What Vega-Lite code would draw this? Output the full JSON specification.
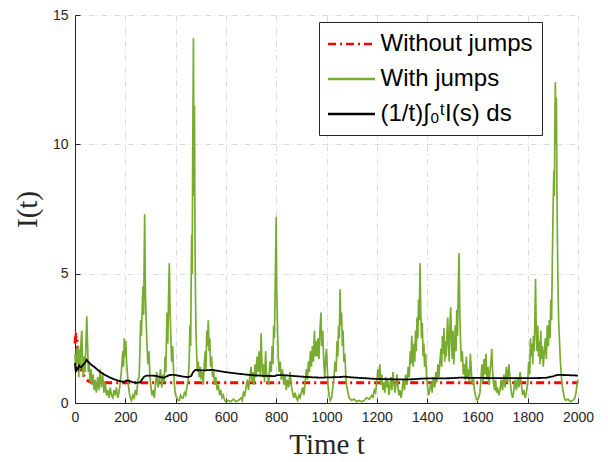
{
"$schema": "https://vega.github.io/schema/vega-lite/v6.json",
"width": 503, "height": 388,
"autosize": {"type": "none"},
"padding": {"left": 75, "top": 15, "right": 30, "bottom": 59},
"background": "white",
"config": {
  "view": {"stroke": null},
  "axis": {"domainColor": "#262626", "tickColor": "#262626", "labelColor": "#262626", "labelFont": "Liberation Sans", "labelFontSize": 14, "titleFont": "Liberation Serif", "titleFontSize": 29, "titleFontWeight": "normal", "titleColor": "#262626", "gridColor": "#dcdcdc", "gridDash": [6, 3, 1, 3], "gridWidth": 1, "tickSize": -5, "domainWidth": 1, "labelPadding": 12, "labelOverlap": false, "labelFlush": false, "format": "d"},
  "legend": {"title": null, "orient": "none", "legendX": 244, "legendY": 7, "fillColor": "white", "strokeColor": "#262626", "padding": 9, "symbolType": "M-2,0H2", "symbolSize": 552, "symbolStrokeWidth": 2.5, "symbolOffset": 10.5, "labelFont": "Liberation Sans", "labelFontSize": 24, "labelColor": "#000000", "labelOffset": 16, "rowPadding": 10}
},
"data": {"values": [
{"s":"a","t":0,"I":2.3},{"s":"a","t":2,"I":2.5},{"s":"a","t":4,"I":2.6},{"s":"a","t":6,"I":2.55},{"s":"a","t":8,"I":2.4},{"s":"a","t":10,"I":2.2},{"s":"a","t":13,"I":1.95},{"s":"a","t":16,"I":1.7},{"s":"a","t":20,"I":1.5},{"s":"a","t":25,"I":1.3},{"s":"a","t":30,"I":1.15},{"s":"a","t":38,"I":1.0},{"s":"a","t":46,"I":0.9},{"s":"a","t":55,"I":0.84},{"s":"a","t":65,"I":0.8},{"s":"a","t":80,"I":0.78},{"s":"a","t":2000,"I":0.78},
{"s":"b","t":0,"I":1.9},{"s":"b","t":3,"I":1.2},{"s":"b","t":6,"I":2.1},{"s":"b","t":9,"I":1.5},{"s":"b","t":12,"I":2.2},{"s":"b","t":15,"I":1.0},{"s":"b","t":18,"I":2.0},{"s":"b","t":21,"I":1.3},{"s":"b","t":24,"I":2.4},{"s":"b","t":27,"I":2.8},{"s":"b","t":30,"I":1.6},{"s":"b","t":33,"I":1.0},{"s":"b","t":36,"I":1.8},{"s":"b","t":40,"I":1.2},{"s":"b","t":44,"I":2.5},{"s":"b","t":47,"I":3.35},{"s":"b","t":50,"I":2.2},{"s":"b","t":53,"I":1.2},{"s":"b","t":56,"I":1.6},{"s":"b","t":60,"I":0.8},{"s":"b","t":64,"I":1.3},{"s":"b","t":68,"I":0.7},{"s":"b","t":72,"I":1.1},{"s":"b","t":76,"I":0.5},{"s":"b","t":80,"I":0.9},{"s":"b","t":85,"I":0.4},{"s":"b","t":90,"I":1.0},{"s":"b","t":95,"I":0.5},{"s":"b","t":100,"I":1.3},{"s":"b","t":105,"I":0.6},{"s":"b","t":110,"I":1.1},{"s":"b","t":115,"I":0.4},{"s":"b","t":120,"I":0.8},{"s":"b","t":125,"I":0.3},{"s":"b","t":130,"I":0.5},{"s":"b","t":135,"I":0.2},{"s":"b","t":140,"I":0.6},{"s":"b","t":145,"I":0.3},{"s":"b","t":150,"I":0.2},{"s":"b","t":155,"I":0.5},{"s":"b","t":160,"I":0.3},{"s":"b","t":165,"I":0.6},{"s":"b","t":170,"I":0.2},{"s":"b","t":175,"I":0.4},{"s":"b","t":180,"I":0.8},{"s":"b","t":185,"I":1.3},{"s":"b","t":190,"I":2.0},{"s":"b","t":193,"I":1.4},{"s":"b","t":196,"I":2.5},{"s":"b","t":199,"I":1.8},{"s":"b","t":202,"I":2.4},{"s":"b","t":205,"I":1.6},{"s":"b","t":208,"I":1.2},{"s":"b","t":212,"I":0.7},{"s":"b","t":216,"I":0.4},{"s":"b","t":220,"I":0.2},{"s":"b","t":225,"I":0.1},{"s":"b","t":230,"I":0.3},{"s":"b","t":235,"I":0.2},{"s":"b","t":240,"I":0.5},{"s":"b","t":245,"I":0.3},{"s":"b","t":250,"I":0.9},{"s":"b","t":255,"I":1.0},{"s":"b","t":258,"I":2.0},{"s":"b","t":261,"I":3.2},{"s":"b","t":264,"I":2.6},{"s":"b","t":267,"I":3.6},{"s":"b","t":270,"I":4.5},{"s":"b","t":273,"I":3.4},{"s":"b","t":275,"I":5.5},{"s":"b","t":277,"I":7.3},{"s":"b","t":280,"I":4.2},{"s":"b","t":283,"I":3.2},{"s":"b","t":286,"I":2.3},{"s":"b","t":290,"I":1.5},{"s":"b","t":294,"I":2.0},{"s":"b","t":298,"I":1.0},{"s":"b","t":302,"I":0.6},{"s":"b","t":306,"I":0.3},{"s":"b","t":310,"I":0.5},{"s":"b","t":315,"I":0.2},{"s":"b","t":320,"I":0.7},{"s":"b","t":325,"I":1.2},{"s":"b","t":330,"I":0.6},{"s":"b","t":335,"I":0.9},{"s":"b","t":340,"I":1.3},{"s":"b","t":345,"I":0.6},{"s":"b","t":350,"I":1.1},{"s":"b","t":355,"I":0.8},{"s":"b","t":358,"I":1.8},{"s":"b","t":361,"I":1.2},{"s":"b","t":364,"I":2.6},{"s":"b","t":366,"I":3.5},{"s":"b","t":369,"I":2.3},{"s":"b","t":372,"I":4.1},{"s":"b","t":375,"I":5.4},{"s":"b","t":378,"I":3.5},{"s":"b","t":381,"I":2.6},{"s":"b","t":384,"I":1.6},{"s":"b","t":388,"I":2.2},{"s":"b","t":392,"I":1.2},{"s":"b","t":396,"I":0.6},{"s":"b","t":400,"I":0.3},{"s":"b","t":405,"I":0.2},{"s":"b","t":410,"I":0.1},{"s":"b","t":415,"I":0.1},{"s":"b","t":420,"I":0.3},{"s":"b","t":425,"I":0.2},
{"s":"b","t":430,"I":0.2},{"s":"b","t":435,"I":0.4},{"s":"b","t":440,"I":0.3},{"s":"b","t":445,"I":0.6},{"s":"b","t":450,"I":0.9},{"s":"b","t":454,"I":1.6},{"s":"b","t":457,"I":3.0},{"s":"b","t":460,"I":2.2},{"s":"b","t":462,"I":4.8},{"s":"b","t":464,"I":6.5},{"s":"b","t":466,"I":5.0},{"s":"b","t":468,"I":9.5},{"s":"b","t":471,"I":14.1},{"s":"b","t":473,"I":8.0},{"s":"b","t":475,"I":11.5},{"s":"b","t":477,"I":6.5},{"s":"b","t":479,"I":4.2},{"s":"b","t":481,"I":2.8},{"s":"b","t":484,"I":1.8},{"s":"b","t":487,"I":1.2},{"s":"b","t":490,"I":1.6},{"s":"b","t":494,"I":1.0},{"s":"b","t":498,"I":1.4},{"s":"b","t":502,"I":0.9},{"s":"b","t":506,"I":1.2},{"s":"b","t":510,"I":0.7},{"s":"b","t":514,"I":1.5},{"s":"b","t":518,"I":2.0},{"s":"b","t":521,"I":1.3},{"s":"b","t":524,"I":2.8},{"s":"b","t":527,"I":2.2},{"s":"b","t":530,"I":3.2},{"s":"b","t":533,"I":2.0},{"s":"b","t":536,"I":2.5},{"s":"b","t":539,"I":1.4},{"s":"b","t":543,"I":1.8},{"s":"b","t":547,"I":1.0},{"s":"b","t":551,"I":1.3},{"s":"b","t":555,"I":0.7},{"s":"b","t":560,"I":1.0},{"s":"b","t":565,"I":0.5},{"s":"b","t":570,"I":0.7},{"s":"b","t":575,"I":0.3},{"s":"b","t":580,"I":0.5},{"s":"b","t":585,"I":0.2},{"s":"b","t":590,"I":0.3},{"s":"b","t":595,"I":0.1},{"s":"b","t":600,"I":0.05},{"s":"b","t":610,"I":0.1},{"s":"b","t":620,"I":0.05},{"s":"b","t":630,"I":0.15},{"s":"b","t":640,"I":0.05},{"s":"b","t":650,"I":0.1},{"s":"b","t":660,"I":0.2},{"s":"b","t":665,"I":0.1},{"s":"b","t":670,"I":0.4},{"s":"b","t":675,"I":0.3},{"s":"b","t":680,"I":0.6},{"s":"b","t":685,"I":0.9},{"s":"b","t":690,"I":0.5},{"s":"b","t":695,"I":1.0},{"s":"b","t":700,"I":1.4},{"s":"b","t":704,"I":0.8},{"s":"b","t":708,"I":1.2},{"s":"b","t":712,"I":0.7},{"s":"b","t":716,"I":1.5},{"s":"b","t":720,"I":1.0},{"s":"b","t":724,"I":1.8},{"s":"b","t":728,"I":1.2},{"s":"b","t":732,"I":2.0},{"s":"b","t":736,"I":1.1},{"s":"b","t":740,"I":2.7},{"s":"b","t":743,"I":1.6},{"s":"b","t":746,"I":1.0},{"s":"b","t":750,"I":1.5},{"s":"b","t":754,"I":0.8},{"s":"b","t":758,"I":2.0},{"s":"b","t":762,"I":1.0},{"s":"b","t":766,"I":1.1},{"s":"b","t":770,"I":0.7},{"s":"b","t":775,"I":1.6},{"s":"b","t":780,"I":1.2},{"s":"b","t":784,"I":2.2},{"s":"b","t":787,"I":1.5},{"s":"b","t":790,"I":3.0},{"s":"b","t":793,"I":2.5},{"s":"b","t":796,"I":4.5},{"s":"b","t":798,"I":5.8},{"s":"b","t":800,"I":7.2},{"s":"b","t":802,"I":4.5},{"s":"b","t":805,"I":3.0},{"s":"b","t":808,"I":1.8},{"s":"b","t":812,"I":1.2},{"s":"b","t":816,"I":1.6},{"s":"b","t":820,"I":0.9},{"s":"b","t":825,"I":1.3},{"s":"b","t":830,"I":0.7},{"s":"b","t":835,"I":1.1},{"s":"b","t":840,"I":0.5},{"s":"b","t":845,"I":0.9},{"s":"b","t":850,"I":0.6},{"s":"b","t":855,"I":1.2},{"s":"b","t":860,"I":0.7},{"s":"b","t":865,"I":0.4},{"s":"b","t":870,"I":0.2},{"s":"b","t":875,"I":0.4},{"s":"b","t":880,"I":0.2},{"s":"b","t":885,"I":0.1},{"s":"b","t":890,"I":0.3},{"s":"b","t":895,"I":0.2},{"s":"b","t":900,"I":0.4},{"s":"b","t":905,"I":0.6},{"s":"b","t":910,"I":0.3},{"s":"b","t":915,"I":0.8},{"s":"b","t":920,"I":1.3},{"s":"b","t":924,"I":0.9},{"s":"b","t":928,"I":1.6},{"s":"b","t":932,"I":1.2},{"s":"b","t":936,"I":2.0},{"s":"b","t":940,"I":1.4},{"s":"b","t":944,"I":2.2},{"s":"b","t":948,"I":1.6},{"s":"b","t":952,"I":2.8},{"s":"b","t":955,"I":1.8},{"s":"b","t":958,"I":2.4},{"s":"b","t":962,"I":1.8},{"s":"b","t":966,"I":2.5},{"s":"b","t":970,"I":1.7},{"s":"b","t":974,"I":2.8},{"s":"b","t":978,"I":3.5},{"s":"b","t":981,"I":2.2},{"s":"b","t":985,"I":2.8},{"s":"b","t":989,"I":1.6},{"s":"b","t":993,"I":1.0},{"s":"b","t":997,"I":1.8},
{"s":"b","t":1000,"I":2.1},{"s":"b","t":1003,"I":1.4},{"s":"b","t":1006,"I":0.7},{"s":"b","t":1010,"I":0.3},{"s":"b","t":1015,"I":0.1},{"s":"b","t":1020,"I":0.2},{"s":"b","t":1025,"I":0.6},{"s":"b","t":1030,"I":1.0},{"s":"b","t":1034,"I":1.6},{"s":"b","t":1038,"I":1.2},{"s":"b","t":1042,"I":2.4},{"s":"b","t":1045,"I":1.8},{"s":"b","t":1048,"I":3.0},{"s":"b","t":1051,"I":2.5},{"s":"b","t":1054,"I":4.4},{"s":"b","t":1057,"I":3.0},{"s":"b","t":1060,"I":3.5},{"s":"b","t":1063,"I":2.2},{"s":"b","t":1066,"I":2.8},{"s":"b","t":1069,"I":1.6},{"s":"b","t":1073,"I":1.9},{"s":"b","t":1077,"I":1.0},{"s":"b","t":1081,"I":0.6},{"s":"b","t":1086,"I":0.4},{"s":"b","t":1090,"I":0.2},{"s":"b","t":1100,"I":0.1},{"s":"b","t":1110,"I":0.15},{"s":"b","t":1120,"I":0.05},{"s":"b","t":1130,"I":0.1},{"s":"b","t":1140,"I":0.05},{"s":"b","t":1150,"I":0.1},{"s":"b","t":1160,"I":0.2},{"s":"b","t":1170,"I":0.15},{"s":"b","t":1180,"I":0.3},{"s":"b","t":1185,"I":0.2},{"s":"b","t":1190,"I":0.5},{"s":"b","t":1195,"I":0.4},{"s":"b","t":1200,"I":0.8},{"s":"b","t":1204,"I":1.3},{"s":"b","t":1208,"I":0.9},{"s":"b","t":1212,"I":1.5},{"s":"b","t":1216,"I":0.7},{"s":"b","t":1220,"I":1.1},{"s":"b","t":1224,"I":0.5},{"s":"b","t":1228,"I":0.8},{"s":"b","t":1232,"I":0.4},{"s":"b","t":1236,"I":1.0},{"s":"b","t":1240,"I":0.6},{"s":"b","t":1244,"I":0.9},{"s":"b","t":1248,"I":0.3},{"s":"b","t":1252,"I":0.6},{"s":"b","t":1256,"I":1.0},{"s":"b","t":1260,"I":0.5},{"s":"b","t":1264,"I":1.2},{"s":"b","t":1268,"I":0.8},{"s":"b","t":1272,"I":0.4},{"s":"b","t":1276,"I":0.7},{"s":"b","t":1280,"I":1.1},{"s":"b","t":1284,"I":0.6},{"s":"b","t":1288,"I":0.3},{"s":"b","t":1292,"I":0.5},{"s":"b","t":1296,"I":0.2},{"s":"b","t":1300,"I":0.4},{"s":"b","t":1305,"I":0.9},{"s":"b","t":1310,"I":0.5},{"s":"b","t":1315,"I":1.1},{"s":"b","t":1320,"I":0.7},{"s":"b","t":1325,"I":1.4},{"s":"b","t":1329,"I":1.0},{"s":"b","t":1333,"I":2.0},{"s":"b","t":1336,"I":1.5},{"s":"b","t":1339,"I":2.6},{"s":"b","t":1342,"I":1.8},{"s":"b","t":1345,"I":1.4},{"s":"b","t":1348,"I":2.3},{"s":"b","t":1351,"I":1.6},{"s":"b","t":1354,"I":2.8},{"s":"b","t":1357,"I":2.0},{"s":"b","t":1360,"I":3.3},{"s":"b","t":1363,"I":2.5},{"s":"b","t":1366,"I":4.0},{"s":"b","t":1369,"I":3.2},{"s":"b","t":1372,"I":5.4},{"s":"b","t":1375,"I":3.4},{"s":"b","t":1378,"I":2.5},{"s":"b","t":1381,"I":3.1},{"s":"b","t":1384,"I":1.8},{"s":"b","t":1387,"I":2.3},{"s":"b","t":1390,"I":1.4},{"s":"b","t":1394,"I":1.9},{"s":"b","t":1398,"I":1.0},{"s":"b","t":1402,"I":0.6},{"s":"b","t":1406,"I":0.3},{"s":"b","t":1410,"I":0.5},{"s":"b","t":1415,"I":0.8},{"s":"b","t":1420,"I":0.4},{"s":"b","t":1425,"I":1.0},{"s":"b","t":1430,"I":0.6},{"s":"b","t":1435,"I":1.2},{"s":"b","t":1439,"I":0.8},{"s":"b","t":1443,"I":1.5},{"s":"b","t":1447,"I":1.0},{"s":"b","t":1451,"I":1.6},{"s":"b","t":1455,"I":2.1},{"s":"b","t":1458,"I":1.4},{"s":"b","t":1461,"I":2.6},{"s":"b","t":1464,"I":1.9},{"s":"b","t":1467,"I":2.9},{"s":"b","t":1470,"I":1.6},{"s":"b","t":1473,"I":2.4},{"s":"b","t":1476,"I":1.8},{"s":"b","t":1479,"I":2.7},{"s":"b","t":1482,"I":3.3},{"s":"b","t":1485,"I":2.2},{"s":"b","t":1488,"I":1.6},{"s":"b","t":1491,"I":3.1},{"s":"b","t":1494,"I":3.7},{"s":"b","t":1497,"I":2.4},{"s":"b","t":1500,"I":1.7},{"s":"b","t":1503,"I":2.8},{"s":"b","t":1506,"I":1.5},{"s":"b","t":1509,"I":2.2},{"s":"b","t":1512,"I":3.0},{"s":"b","t":1515,"I":2.0},{"s":"b","t":1518,"I":3.6},{"s":"b","t":1521,"I":2.6},{"s":"b","t":1524,"I":4.4},{"s":"b","t":1527,"I":5.8},{"s":"b","t":1530,"I":3.5},{"s":"b","t":1533,"I":2.4},{"s":"b","t":1536,"I":1.6},{"s":"b","t":1540,"I":2.0},{"s":"b","t":1544,"I":1.1},{"s":"b","t":1548,"I":1.5},{"s":"b","t":1552,"I":0.9},{"s":"b","t":1556,"I":1.8},{"s":"b","t":1560,"I":1.0},{"s":"b","t":1564,"I":1.3},{"s":"b","t":1568,"I":0.8},{"s":"b","t":1572,"I":1.9},{"s":"b","t":1576,"I":1.2},{"s":"b","t":1580,"I":0.7},{"s":"b","t":1584,"I":1.0},{"s":"b","t":1588,"I":0.5},{"s":"b","t":1592,"I":0.3},{"s":"b","t":1596,"I":0.15},{"s":"b","t":1600,"I":0.1},{"s":"b","t":1605,"I":0.2},{"s":"b","t":1610,"I":0.4},{"s":"b","t":1614,"I":0.9},{"s":"b","t":1618,"I":1.5},{"s":"b","t":1622,"I":0.8},{"s":"b","t":1626,"I":1.7},{"s":"b","t":1630,"I":1.1},{"s":"b","t":1634,"I":1.9},{"s":"b","t":1638,"I":0.9},{"s":"b","t":1642,"I":1.4},{"s":"b","t":1646,"I":0.7},{"s":"b","t":1650,"I":1.2},{"s":"b","t":1654,"I":1.6},{"s":"b","t":1657,"I":2.1},{"s":"b","t":1660,"I":1.3},{"s":"b","t":1664,"I":0.8},{"s":"b","t":1668,"I":0.5},{"s":"b","t":1672,"I":0.9},{"s":"b","t":1676,"I":0.4},{"s":"b","t":1680,"I":0.6},{"s":"b","t":1685,"I":0.3},{"s":"b","t":1690,"I":0.5},{"s":"b","t":1695,"I":0.9},{"s":"b","t":1700,"I":0.5},{"s":"b","t":1705,"I":1.1},{"s":"b","t":1710,"I":0.6},{"s":"b","t":1715,"I":1.4},{"s":"b","t":1720,"I":0.8},{"s":"b","t":1725,"I":1.5},{"s":"b","t":1730,"I":0.9},{"s":"b","t":1735,"I":0.4},{"s":"b","t":1740,"I":0.2},{"s":"b","t":1745,"I":0.5},{"s":"b","t":1750,"I":0.9},{"s":"b","t":1755,"I":0.5},{"s":"b","t":1760,"I":1.0},{"s":"b","t":1765,"I":0.6},{"s":"b","t":1770,"I":1.2},{"s":"b","t":1775,"I":0.7},{"s":"b","t":1780,"I":0.3},{"s":"b","t":1785,"I":0.5},{"s":"b","t":1790,"I":0.2},{"s":"b","t":1795,"I":0.4},{"s":"b","t":1800,"I":0.8},{"s":"b","t":1804,"I":1.6},{"s":"b","t":1808,"I":1.1},{"s":"b","t":1811,"I":2.5},{"s":"b","t":1814,"I":1.8},{"s":"b","t":1817,"I":2.3},{"s":"b","t":1820,"I":1.5},{"s":"b","t":1823,"I":2.6},{"s":"b","t":1826,"I":2.0},{"s":"b","t":1829,"I":3.5},{"s":"b","t":1831,"I":4.8},{"s":"b","t":1834,"I":2.8},{"s":"b","t":1837,"I":2.0},{"s":"b","t":1840,"I":3.0},{"s":"b","t":1843,"I":1.8},{"s":"b","t":1846,"I":2.4},{"s":"b","t":1849,"I":1.5},{"s":"b","t":1852,"I":2.8},{"s":"b","t":1855,"I":1.7},{"s":"b","t":1858,"I":2.2},{"s":"b","t":1862,"I":1.4},{"s":"b","t":1866,"I":2.0},{"s":"b","t":1870,"I":2.5},{"s":"b","t":1874,"I":1.7},{"s":"b","t":1878,"I":3.0},{"s":"b","t":1882,"I":2.2},{"s":"b","t":1886,"I":3.2},{"s":"b","t":1889,"I":2.5},{"s":"b","t":1892,"I":4.0},{"s":"b","t":1895,"I":3.2},{"s":"b","t":1898,"I":5.5},{"s":"b","t":1901,"I":7.5},{"s":"b","t":1904,"I":9.0},{"s":"b","t":1906,"I":8.0},{"s":"b","t":1908,"I":10.8},{"s":"b","t":1910,"I":12.4},{"s":"b","t":1912,"I":10.0},{"s":"b","t":1914,"I":11.8},{"s":"b","t":1916,"I":8.5},{"s":"b","t":1918,"I":6.5},{"s":"b","t":1920,"I":4.8},{"s":"b","t":1923,"I":3.2},{"s":"b","t":1926,"I":2.5},{"s":"b","t":1930,"I":1.6},{"s":"b","t":1934,"I":1.0},{"s":"b","t":1938,"I":0.6},{"s":"b","t":1942,"I":0.4},{"s":"b","t":1946,"I":0.2},{"s":"b","t":1950,"I":0.1},{"s":"b","t":1960,"I":0.15},{"s":"b","t":1970,"I":0.05},{"s":"b","t":1980,"I":0.1},{"s":"b","t":1988,"I":0.2},{"s":"b","t":1992,"I":0.4},{"s":"b","t":1996,"I":0.7},{"s":"b","t":2000,"I":0.9},
{"s":"c","t":0,"I":1.55},{"s":"c","t":2,"I":1.3},{"s":"c","t":4,"I":1.2},{"s":"c","t":8,"I":1.35},{"s":"c","t":12,"I":1.3},{"s":"c","t":16,"I":1.45},{"s":"c","t":20,"I":1.4},{"s":"c","t":25,"I":1.38},{"s":"c","t":30,"I":1.45},{"s":"c","t":35,"I":1.5},{"s":"c","t":40,"I":1.55},{"s":"c","t":46,"I":1.67},{"s":"c","t":50,"I":1.62},{"s":"c","t":60,"I":1.52},{"s":"c","t":70,"I":1.44},{"s":"c","t":80,"I":1.37},{"s":"c","t":90,"I":1.28},{"s":"c","t":100,"I":1.2},{"s":"c","t":120,"I":1.08},{"s":"c","t":140,"I":0.98},{"s":"c","t":160,"I":0.9},{"s":"c","t":180,"I":0.84},{"s":"c","t":195,"I":0.82},{"s":"c","t":205,"I":0.87},{"s":"c","t":215,"I":0.86},{"s":"c","t":230,"I":0.8},{"s":"c","t":245,"I":0.78},{"s":"c","t":258,"I":0.8},{"s":"c","t":266,"I":0.9},{"s":"c","t":275,"I":1.02},{"s":"c","t":285,"I":1.06},{"s":"c","t":300,"I":1.06},{"s":"c","t":320,"I":1.05},{"s":"c","t":340,"I":1.0},{"s":"c","t":355,"I":0.98},{"s":"c","t":365,"I":1.03},{"s":"c","t":375,"I":1.08},{"s":"c","t":390,"I":1.09},{"s":"c","t":410,"I":1.06},{"s":"c","t":430,"I":1.02},{"s":"c","t":450,"I":1.0},{"s":"c","t":462,"I":1.04},{"s":"c","t":470,"I":1.2},{"s":"c","t":478,"I":1.28},{"s":"c","t":490,"I":1.27},{"s":"c","t":510,"I":1.26},{"s":"c","t":530,"I":1.27},{"s":"c","t":545,"I":1.28},{"s":"c","t":570,"I":1.24},{"s":"c","t":600,"I":1.19},{"s":"c","t":650,"I":1.13},{"s":"c","t":700,"I":1.08},{"s":"c","t":750,"I":1.05},{"s":"c","t":795,"I":1.04},{"s":"c","t":802,"I":1.08},{"s":"c","t":820,"I":1.08},{"s":"c","t":850,"I":1.06},{"s":"c","t":900,"I":1.02},{"s":"c","t":950,"I":0.99},{"s":"c","t":980,"I":0.98},{"s":"c","t":1000,"I":0.99},{"s":"c","t":1050,"I":1.0},{"s":"c","t":1070,"I":1.02},{"s":"c","t":1100,"I":0.99},{"s":"c","t":1150,"I":0.96},{"s":"c","t":1200,"I":0.93},{"s":"c","t":1250,"I":0.92},{"s":"c","t":1300,"I":0.91},{"s":"c","t":1350,"I":0.92},{"s":"c","t":1375,"I":0.94},{"s":"c","t":1400,"I":0.95},{"s":"c","t":1450,"I":0.95},{"s":"c","t":1500,"I":0.96},{"s":"c","t":1530,"I":0.98},{"s":"c","t":1600,"I":0.97},{"s":"c","t":1700,"I":0.96},{"s":"c","t":1800,"I":0.96},{"s":"c","t":1870,"I":0.97},{"s":"c","t":1900,"I":1.03},{"s":"c","t":1920,"I":1.09},{"s":"c","t":1950,"I":1.08},{"s":"c","t":2000,"I":1.06}
]},
"encoding": {
  "x": {"field": "t", "type": "quantitative", "scale": {"domain": [0, 2000], "nice": false}, "axis": {"values": [0,200,400,600,800,1000,1200,1400,1600,1800,2000], "title": "Time t", "titlePadding": 6}},
  "y": {"field": "I", "type": "quantitative", "scale": {"domain": [0, 15], "nice": false}, "axis": {"values": [0,5,10,15], "title": "I(t)", "titlePadding": 10}},
  "color": {"field": "s", "type": "nominal", "scale": {"domain": ["a","b","c"], "range": ["#ff0000","#77ac30","#000000"]},
    "legend": {"labelExpr": "datum.value === 'a' ? 'Without jumps' : datum.value === 'b' ? 'With jumps' : '(1/t)∫₀ᵗI(s) ds'"}},
  "strokeDash": {"field": "s", "type": "nominal", "scale": {"domain": ["a","b","c"], "range": [[8,4,2,4],[1,0],[1,0]]},
    "legend": {"labelExpr": "datum.value === 'a' ? 'Without jumps' : datum.value === 'b' ? 'With jumps' : '(1/t)∫₀ᵗI(s) ds'"}}
},
"layer": [
  {"transform": [{"filter": "datum.s === 'a'"}], "mark": {"type": "line", "strokeWidth": 3}},
  {"transform": [{"filter": "datum.s === 'b'"}], "mark": {"type": "line", "strokeWidth": 1.7}},
  {"transform": [{"filter": "datum.s === 'c'"}], "mark": {"type": "line", "strokeWidth": 1.8}}
]
}
